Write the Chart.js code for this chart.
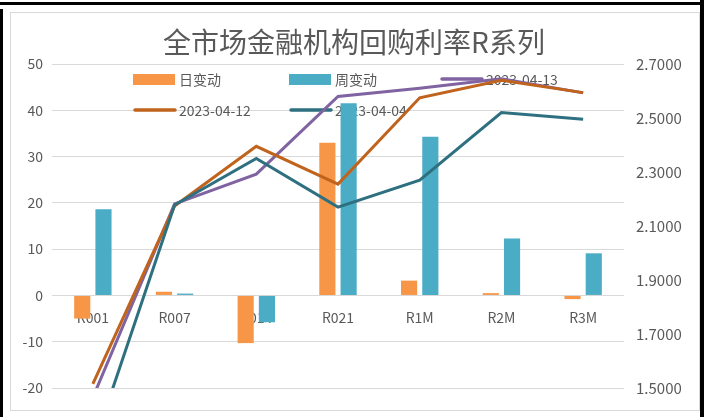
<!DOCTYPE html>
<html>
<head>
<meta charset="utf-8">
<script src="https://cdn.jsdelivr.net/npm/chart.js@4/dist/chart.umd.min.js"></script>
<style>
  body { margin: 0; background: #fff; }
  #wrap { position: relative; width: 711px; height: 417px; overflow: hidden; }
  #chart { position: absolute; left: 0; top: 0; }
  .line { position: absolute; background: #000; }
  #box { position: absolute; left: 10px; top: 12px; width: 688px; height: 397px; border: 1px solid #d9d9d9; }
</style>
</head>
<body>
<div id="wrap">
  <div id="box"></div>
  <canvas id="chart" width="711" height="417"></canvas>
  <div class="line" style="left:0;top:2px;width:704px;height:3px"></div>
  <div class="line" style="left:700px;top:0;width:4px;height:417px"></div>
  <div class="line" style="left:0;top:9px;width:3px;height:408px"></div>
</div>
<script>
const chartTitle = "全市场金融机构回购利率R系列";
const categories = ["R001", "R007", "R014", "R021", "R1M", "R2M", "R3M"];

// bars, left axis (bp)
const dailyChange = [-5.0, 0.8, -10.3, 33.0, 3.2, 0.5, -0.8];
const weeklyChange = [18.6, 0.4, -5.8, 41.5, 34.3, 12.3, 9.1];

// lines, right axis (%) - R001 of 04-04 runs below the axis and gets clipped
const rate0413 = [1.465, 2.182, 2.292, 2.58, 2.61, 2.645, 2.593];
const rate0412 = [1.515, 2.174, 2.395, 2.255, 2.575, 2.64, 2.594];
const rate0404 = [1.28, 2.178, 2.35, 2.17, 2.27, 2.52, 2.495];

const leftMin = -20, leftMax = 50, leftStep = 10;
const rightMin = 1.5, rightMax = 2.7, rightStep = 0.2;

const textColor = "#595959";
const cjkFont = '"Noto Sans CJK SC", "Noto Sans", sans-serif';

const colors = {
  daily: "#f79646",
  weekly: "#4bacc6",
  d0413: "#8064a2",
  d0412: "#c0631c",
  d0404: "#2e7080",
};

// legend drawn inside the plot, under the marks, like the original
const legendItems = [
  { text: "日变动", type: "box", color: colors.daily, x: 133, y: 79 },
  { text: "周变动", type: "box", color: colors.weekly, x: 289, y: 79 },
  { text: "2023-04-13", type: "line", color: colors.d0413, x: 440, y: 79 },
  { text: "2023-04-12", type: "line", color: colors.d0412, x: 133, y: 110 },
  { text: "2023-04-04", type: "line", color: colors.d0404, x: 289, y: 110 },
];

const overlayPlugin = {
  id: "overlay",
  beforeDatasetsDraw(chart) {
    const ctx = chart.ctx;
    ctx.save();
    ctx.fillStyle = textColor;
    ctx.font = "28px " + cjkFont;
    ctx.textAlign = "center";
    ctx.textBaseline = "middle";
    ctx.fillText(chartTitle, 354, 42);

    ctx.font = "14px " + cjkFont;
    ctx.textAlign = "left";
    for (const item of legendItems) {
      if (item.type == "box") {
        ctx.fillStyle = item.color;
        ctx.fillRect(item.x, item.y - 5, 42, 11);
      } else {
        ctx.strokeStyle = item.color;
        ctx.lineWidth = 3.5;
        ctx.lineCap = "round";
        ctx.beginPath();
        ctx.moveTo(item.x + 2, item.y);
        ctx.lineTo(item.x + 42, item.y);
        ctx.stroke();
      }
      ctx.fillStyle = textColor;
      ctx.fillText(item.text, item.x + 46, item.y + 1);
    }
    ctx.restore();
  },
};

const lineStyle = (color) => ({
  type: "line",
  yAxisID: "y1",
  borderColor: color,
  backgroundColor: color,
  borderWidth: 3,
  pointRadius: 0,
  tension: 0,
  fill: false,
});

new Chart(document.getElementById("chart"), {
  type: "bar",
  data: {
    labels: categories,
    datasets: [
      { label: "日变动", data: dailyChange, backgroundColor: colors.daily, yAxisID: "y", order: 5,
        categoryPercentage: 0.52, barPercentage: 0.76 },
      { label: "周变动", data: weeklyChange, backgroundColor: colors.weekly, yAxisID: "y", order: 5,
        categoryPercentage: 0.52, barPercentage: 0.76 },
      { label: "2023-04-13", data: rate0413, ...lineStyle(colors.d0413), order: 3 },
      { label: "2023-04-12", data: rate0412, ...lineStyle(colors.d0412), order: 2 },
      { label: "2023-04-04", data: rate0404, ...lineStyle(colors.d0404), order: 1 },
    ],
  },
  options: {
    responsive: false,
    animation: false,
    layout: { padding: { left: 0, right: 0, top: 64, bottom: 29 } },
    plugins: { legend: { display: false }, title: { display: false }, tooltip: { enabled: false } },
    scales: {
      x: {
        position: { y: 0 },
        grid: { display: false, drawTicks: false },
        border: { display: false },
        ticks: { color: textColor, font: { family: cjkFont, size: 14 }, padding: 14 },
      },
      y: {
        position: "left",
        min: leftMin,
        max: leftMax,
        ticks: { stepSize: leftStep, color: textColor, font: { family: cjkFont, size: 14 }, padding: 9 },
        grid: { color: "#d9d9d9", drawTicks: false },
        border: { display: false },
        afterFit: (s) => { s.width = 52; },
      },
      y1: {
        position: "right",
        min: rightMin,
        max: rightMax,
        ticks: {
          stepSize: rightStep,
          color: textColor,
          font: { family: cjkFont, size: 15 },
          padding: 12,
          callback: (v) => Number(v).toFixed(4),
        },
        grid: { display: false, drawTicks: false },
        border: { display: false },
        afterFit: (s) => { s.width = 87; },
      },
    },
  },
  plugins: [overlayPlugin],
});
</script>
</body>
</html>
